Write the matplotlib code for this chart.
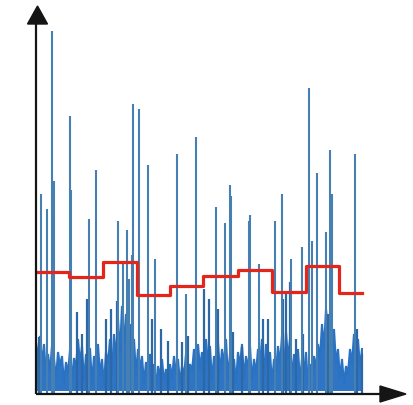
import matplotlib
matplotlib.use("Agg")
import matplotlib.pyplot as plt
from matplotlib.patches import Polygon
import numpy as np

# ---- data (units: amplitude, sample position) ----
# tall spikes: position, height
spike_x = [5, 11, 16, 18, 34, 35, 53, 60, 82, 87, 91, 93, 96, 97, 103, 112, 119,
           141, 150, 160, 180, 189, 194, 195, 213, 214, 223, 239, 246, 255, 266,
           273, 276, 281, 290, 294, 296, 319]
spike_h = [200, 185, 363, 213, 278, 204, 175, 224, 173, 133, 164, 115, 139, 290, 285, 229, 135,
           240, 100, 257, 187, 171, 209, 198, 173, 179, 130, 173, 200, 135, 147,
           306, 153, 221, 162, 244, 200, 240]
# medium spikes
mid_x = [3, 41, 46, 51, 70, 75, 81, 116, 125, 132, 146, 152, 168, 173, 182, 197,
         206, 227, 232, 247, 250, 254, 260, 267, 292, 321, 326]
mid_h = [57, 82, 60, 95, 75, 85, 93, 75, 65, 53, 52, 58, 105, 95, 85, 62,
         47, 75, 75, 95, 102, 112, 55, 60, 80, 65, 40]
# dense background signal, one value every 2 samples
noise = [12, 45, 58, 30, 50, 18, 40, 22, 48, 35,
         15, 42, 28, 38, 10, 32, 20, 44, 14, 36,
         25, 55, 30, 48, 12, 40, 22, 46, 10, 38,
         28, 50, 18, 35, 8, 42, 30, 55, 20, 60,
         35, 75, 40, 88, 50, 80, 45, 70, 30, 55,
         18, 45, 25, 38, 10, 32, 20, 40, 15, 30,
         8, 28, 18, 35, 12, 25, 6, 30, 15, 38,
         20, 35, 10, 28, 18, 40, 12, 30, 22, 45,
         15, 50, 25, 42, 18, 55, 30, 48, 12, 38,
         25, 52, 20, 45, 30, 55, 15, 40, 22, 35,
         10, 42, 28, 50, 15, 38, 25, 48, 12, 35,
         20, 45, 30, 55, 18, 50, 28, 42, 10, 35,
         22, 48, 30, 58, 20, 62, 35, 55, 15, 40,
         25, 45, 12, 35, 20, 42, 8, 30, 18, 38,
         25, 50, 35, 70, 45, 85, 60, 78, 40, 65,
         30, 45, 15, 35, 10, 28, 20, 45, 30, 60,
         35, 55, 25, 45]
# step (window average) line
step_edges = [0, 33, 67, 101, 134, 167, 202, 236, 270, 303, 326]
step_levels = [122, 117, 132, 99, 108, 118, 124, 102, 128, 101]

# ---- figure ----
W, H = 414, 406
fig = plt.figure(figsize=(W / 100, H / 100), dpi=100)
ax = fig.add_axes([36 / W, 11 / H, (W - 36) / W, 395 / H])
ax.set_xlim(0, W - 36)
ax.set_ylim(0, 395)
ax.axis("off")

noise_x = np.arange(len(noise)) * 2
ax.vlines(noise_x, 3, noise, color="#2a72c4", lw=1.4, zorder=2)
ax.plot(noise_x, noise, color="#2a72c4", lw=1.5, solid_joinstyle="miter", zorder=2)
ax.vlines(mid_x, 0, mid_h, color="#2c68a6", lw=1.6, zorder=3)
ax.vlines(spike_x, 0, spike_h, color="#4680b2", lw=1.5, zorder=3)

# step line
sx = np.array(step_edges)
sy = np.array(step_levels + [step_levels[-1]])
ax.step(sx, sy, where="post", color="#e3261b", lw=2.3, zorder=4)

# axes with arrows
axis_col = "#151515"
ax.plot([0, 0], [0, 372], color=axis_col, lw=1.6, clip_on=False, zorder=5,
        solid_capstyle="butt")
ax.plot([0, 346], [0, 0], color=axis_col, lw=1.6, clip_on=False, zorder=5,
        solid_capstyle="butt")
ax.add_patch(Polygon([[-8.5, 370], [11.5, 370], [1.5, 388]], closed=True,
                     color=axis_col, clip_on=False, zorder=6))
ax.add_patch(Polygon([[344, 8], [344, -8], [370, 0]], closed=True,
                     color=axis_col, clip_on=False, zorder=6))

fig.savefig("out.png", dpi=100, facecolor="white")
